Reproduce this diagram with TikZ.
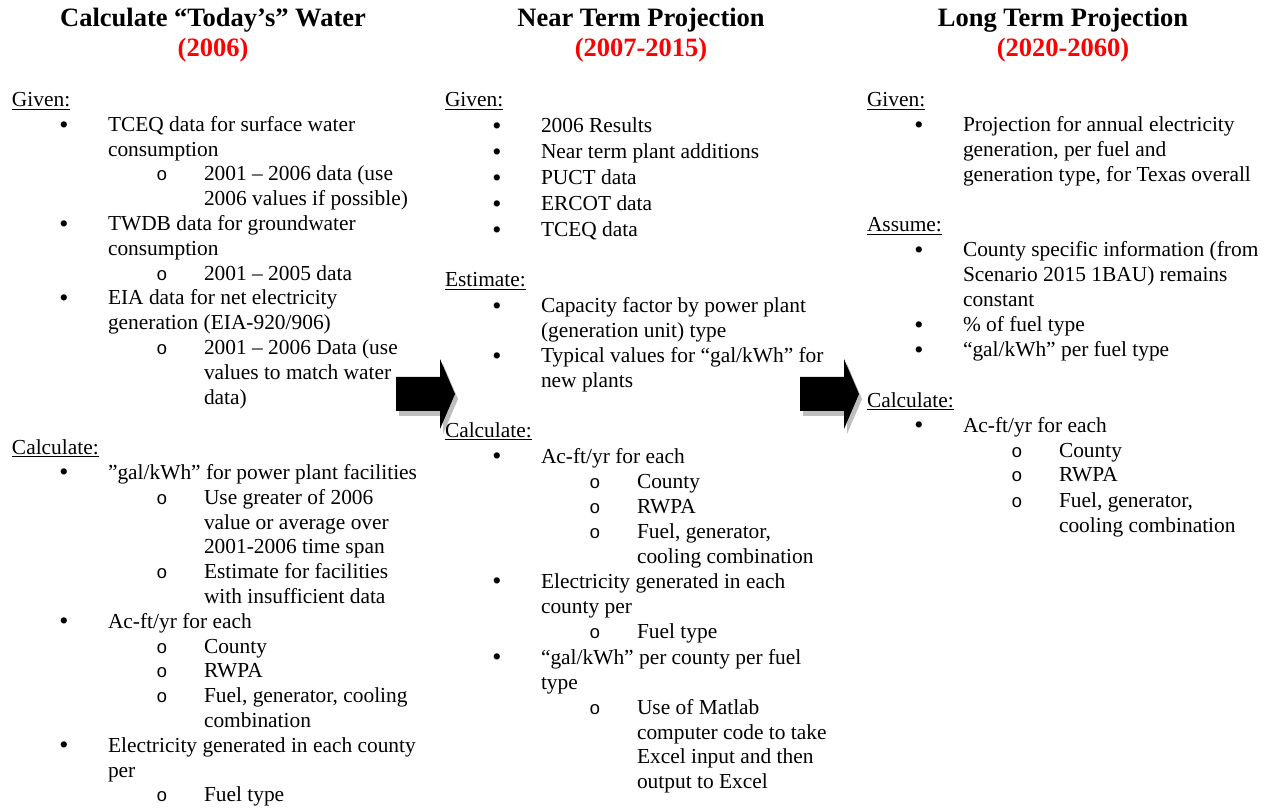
\documentclass[tikz,border=0pt]{standalone}
\usepackage{fontspec}
\setmainfont{Liberation Serif}
\newfontfamily\monofam{Liberation Mono}
\definecolor{titlered}{RGB}{255,0,0}
\definecolor{shadowgray}{RGB}{190,190,190}
\tikzset{
  txt/.style={anchor=base west, inner sep=0pt, outer sep=0pt, font=\fontsize{21.4}{24.8}\selectfont},
  bul/.style={anchor=base, inner sep=0pt, outer sep=0pt, yshift=-1.5pt, font=\fontsize{26}{26}\selectfont},
  subbul/.style={anchor=base, inner sep=0pt, outer sep=0pt, font=\monofam\fontsize{18.5}{24.8}\selectfont},
  ttl/.style={anchor=base, inner sep=0pt, outer sep=0pt, font=\bfseries\fontsize{26.5}{30}\selectfont},
  ulne/.style={line width=1.1pt},
  blockarrow/.style={fill=black, draw=none},
  arrowshadow/.style={fill=shadowgray, draw=none}
}
\newcounter{lnc}
\newcommand\Hd[2]{\stepcounter{lnc}\edef\nm{h\arabic{lnc}}%
  \node[txt] (\nm) at (\colx,#1) {#2};
  \draw[ulne] ([yshift=-2.6pt]\nm.base west) -- ([yshift=-2.6pt]\nm.base east);}
\newcommand\Bul[2]{\stepcounter{lnc}\edef\nm{\arabic{lnc}}%
  \node[bul] (b\nm) at (\colx+52,#1) {•};
  \node[txt] (t\nm) at (\colx+96,#1) {#2};}
\newcommand\Txt[2]{\stepcounter{lnc}\edef\nm{\arabic{lnc}}%
  \node[txt] (t\nm) at (\colx+96,#1) {#2};}
\newcommand\Sub[2]{\stepcounter{lnc}\edef\nm{\arabic{lnc}}%
  \node[subbul] (o\nm) at (\colx+150,#1) {o};
  \node[txt] (s\nm) at (\colx+192,#1) {#2};}
\newcommand\SubTxt[2]{\stepcounter{lnc}\edef\nm{\arabic{lnc}}%
  \node[txt] (s\nm) at (\colx+192,#1) {#2};}
\begin{document}
\begin{tikzpicture}[x=1pt,y=-1pt]
\useasboundingbox (0,0) rectangle (1270,810);
\fill[white] (0,0) rectangle (1270,810);

% ---------- block arrows ----------
\foreach \dx in {0,404}{
  \fill[arrowshadow] (\dx+399,382) -- (\dx+443,382) -- (\dx+443,364) -- (\dx+458,399)
     -- (\dx+443,434) -- (\dx+443,416) -- (\dx+399,416) -- cycle;
  \fill[blockarrow] (\dx+396,377) -- (\dx+440,377) -- (\dx+440,359) -- (\dx+455,394)
     -- (\dx+440,429) -- (\dx+440,411) -- (\dx+396,411) -- cycle;
}

% ---------- titles ----------
\node[ttl] (title1) at (213,27) {Calculate “Today’s” Water};
\node[ttl, text=titlered] (year1) at (213,57) {(2006)};
\node[ttl] (title2) at (641,27) {Near Term Projection};
\node[ttl, text=titlered] (year2) at (641,57) {(2007-2015)};
\node[ttl] (title3) at (1063,27) {Long Term Projection};
\node[ttl, text=titlered] (year3) at (1063,57) {(2020-2060)};

% ---------- column 1 ----------
\def\colx{12}
\Hd{107}{Given:}
\Bul{132}{TCEQ data for surface water}
\Txt{157}{consumption}
\Sub{181}{2001 – 2006 data (use}
\SubTxt{206}{2006 values if possible)}
\Bul{231}{TWDB data for groundwater}
\Txt{256}{consumption}
\Sub{281}{2001 – 2005 data}
\Bul{305}{EIA data for net electricity}
\Txt{330}{generation (EIA-920/906)}
\Sub{355}{2001 – 2006 Data (use}
\SubTxt{380}{values to match water}
\SubTxt{405}{data)}
\Hd{454}{Calculate:}
\Bul{479}{”gal/kWh” for power plant facilities}
\Sub{504}{Use greater of 2006}
\SubTxt{529}{value or average over}
\SubTxt{553}{2001-2006 time span}
\Sub{578}{Estimate for facilities}
\SubTxt{603}{with insufficient data}
\Bul{628}{Ac-ft/yr for each}
\Sub{653}{County}
\Sub{677}{RWPA}
\Sub{702}{Fuel, generator, cooling}
\SubTxt{727}{combination}
\Bul{752}{Electricity generated in each county}
\Txt{777}{per}
\Sub{801}{Fuel type}

% ---------- column 2 ----------
\def\colx{445}
\Hd{107}{Given:}
\Bul{133}{2006 Results}
\Bul{159}{Near term plant additions}
\Bul{185}{PUCT data}
\Bul{211}{ERCOT data}
\Bul{237}{TCEQ data}
\Hd{287}{Estimate:}
\Bul{313}{Capacity factor by power plant}
\Txt{338}{(generation unit) type}
\Bul{363}{Typical values for “gal/kWh” for}
\Txt{388}{new plants}
\Hd{437}{Calculate:}
\Bul{463}{Ac-ft/yr for each}
\Sub{488}{County}
\Sub{513}{RWPA}
\Sub{538}{Fuel, generator,}
\SubTxt{563}{cooling combination}
\Bul{588}{Electricity generated in each}
\Txt{613}{county per}
\Sub{638}{Fuel type}
\Bul{664}{“gal/kWh” per county per fuel}
\Txt{689}{type}
\Sub{714}{Use of Matlab}
\SubTxt{739}{computer code to take}
\SubTxt{763}{Excel input and then}
\SubTxt{788}{output to Excel}

% ---------- column 3 ----------
\def\colx{867}
\Hd{107}{Given:}
\Bul{132}{Projection for annual electricity}
\Txt{157}{generation, per fuel and}
\Txt{182}{generation type, for Texas overall}
\Hd{232}{Assume:}
\Bul{257}{County specific information (from}
\Txt{282}{Scenario 2015 1BAU) remains}
\Txt{307}{constant}
\Bul{332}{\% of fuel type}
\Bul{357}{“gal/kWh” per fuel type}
\Hd{407}{Calculate:}
\Bul{432}{Ac-ft/yr for each}
\Sub{457}{County}
\Sub{482}{RWPA}
\Sub{507}{Fuel, generator,}
\SubTxt{532}{cooling combination}
\end{tikzpicture}
\end{document}
